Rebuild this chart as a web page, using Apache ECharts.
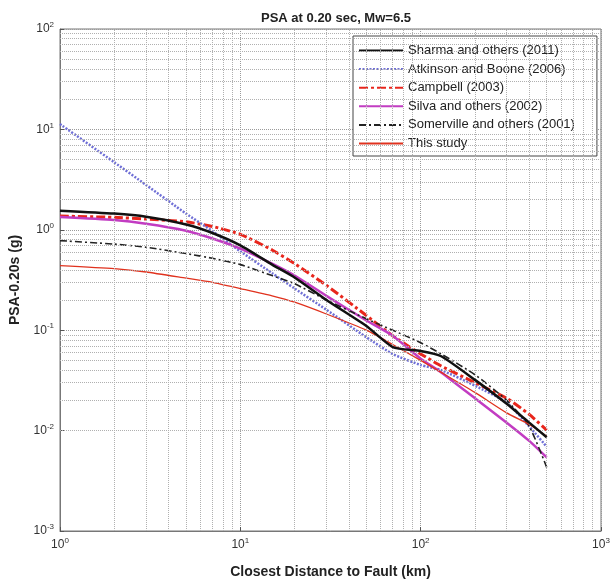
<!DOCTYPE html>
<html>
<head>
<meta charset="utf-8">
<script src="https://cdn.jsdelivr.net/npm/echarts@6/dist/echarts.min.js"></script>
<style>
html,body{margin:0;padding:0;background:#fff;}
#chart{width:615px;height:584px;}
</style>
</head>
<body>
<div id="chart"></div>
<script>
// Distances (km)
var distances = [1, 2, 3, 5, 7, 10, 15, 20, 30, 50, 70, 100, 130, 200, 300, 400, 500];
// PSA values (g)
var sharma2011     = [1.55, 1.45, 1.35, 1.13, 0.93, 0.70, 0.45, 0.335, 0.20, 0.11, 0.068, 0.062, 0.055, 0.032, 0.0185, 0.012, 0.0086];
var atkinson2006   = [11.3, 4.7, 2.8, 1.45, 0.97, 0.61, 0.37, 0.26, 0.16, 0.085, 0.058, 0.045, 0.040, 0.028, 0.019, 0.011, 0.0069];
var campbell2003   = [1.37, 1.33, 1.28, 1.20, 1.08, 0.90, 0.63, 0.46, 0.28, 0.14, 0.088, 0.058, 0.044, 0.030, 0.021, 0.0145, 0.0101];
var silva2002      = [1.34, 1.25, 1.15, 0.98, 0.82, 0.65, 0.46, 0.35, 0.22, 0.125, 0.088, 0.052, 0.038, 0.021, 0.012, 0.0079, 0.0054];
var somerville2001 = [0.78, 0.72, 0.67, 0.58, 0.52, 0.45, 0.35, 0.29, 0.20, 0.13, 0.10, 0.075, 0.058, 0.036, 0.020, 0.011, 0.0043];
var thisStudy      = [0.44, 0.41, 0.38, 0.33, 0.30, 0.26, 0.22, 0.19, 0.145, 0.10, 0.072, 0.050, 0.038, 0.024, 0.015, 0.0115, 0.0088];

var seriesNames = ['Sharma and others (2011)', 'Atkinson and Boone (2006)', 'Campbell (2003)',
                   'Silva and others (2002)', 'Somerville and others (2001)', 'This study'];

// Grid tick positions (minor)
var minorX = [2,3,4,5,6,7,8,9,20,30,40,50,60,70,80,90,200,300,400,500,600,700,800,900];
var minorY = [0.002,0.003,0.004,0.005,0.006,0.007,0.008,0.009,
              0.02,0.03,0.04,0.05,0.06,0.07,0.08,0.09,
              0.2,0.3,0.4,0.5,0.6,0.7,0.8,0.9,
              2,3,4,5,6,7,8,9,20,30,40,50,60,70,80,90];

function pairs(vals){ return distances.map(function(d,i){ return [d, vals[i]]; }); }

var chart = echarts.init(document.getElementById('chart'), null, {renderer:'canvas'});

function expLabel(v){
  var e = Math.round(Math.log(v)/Math.LN10);
  return '{b|10}{s|' + e + '}';
}
var rich = {
  b: {fontSize: 12, fontFamily: 'Liberation Sans, Arial', color: '#333'},
  s: {fontSize: 8, fontFamily: 'Liberation Sans, Arial', color: '#333', padding: [0,0,8,0]}
};

var minorLines = [];
minorX.forEach(function(x){ minorLines.push({xAxis: x}); });
minorY.forEach(function(y){ minorLines.push({yAxis: y}); });

var option = {
  animation: false,
  backgroundColor: '#fff',
  title: {
    text: 'PSA at 0.20 sec, Mw=6.5',
    left: 331, top: 7, textAlign: 'center',
    textStyle: {fontSize: 13, fontWeight: 'bold', fontFamily: 'Liberation Sans, Arial', color: '#222'}
  },
  grid: {left: 60, top: 29, right: 14, bottom: 53, show: true, borderColor: '#777', borderWidth: 1, backgroundColor: 'transparent'},
  legend: {
    orient: 'vertical',
    left: 353, top: 36,
    data: seriesNames,
    itemWidth: 44, itemHeight: 12, itemGap: 5.6,
    padding: [8, 22, 6, 5],
    backgroundColor: '#fff',
    borderColor: '#444', borderWidth: 1,
    itemStyle: {opacity: 0},
    textStyle: {fontSize: 13, fontFamily: 'Liberation Sans, Arial', color: '#222'}
  },
  xAxis: {
    type: 'log', logBase: 10, min: 1, max: 1000,
    name: 'Closest Distance to Fault (km)',
    nameLocation: 'middle', nameGap: 34,
    nameTextStyle: {fontSize: 14, fontWeight: 'bold', fontFamily: 'Liberation Sans, Arial', color: '#222'},
    axisLine: {show: true, lineStyle: {color: '#777'}},
    axisTick: {show: true, inside: true, length: 4, lineStyle: {color: '#555'}},
    axisLabel: {formatter: expLabel, rich: rich, margin: 6},
    splitLine: {show: true, lineStyle: {color: '#9a9a9a', type: 'dotted', width: 1}}
  },
  yAxis: {
    type: 'log', logBase: 10, min: 0.001, max: 100,
    name: 'PSA-0.20s (g)',
    nameLocation: 'middle', nameGap: 36,
    nameTextStyle: {fontSize: 14, fontWeight: 'bold', fontFamily: 'Liberation Sans, Arial', color: '#222'},
    axisLine: {show: true, lineStyle: {color: '#777'}},
    axisTick: {show: true, inside: true, length: 4, lineStyle: {color: '#555'}},
    axisLabel: {formatter: expLabel, rich: rich, margin: 6},
    splitLine: {show: true, lineStyle: {color: '#9a9a9a', type: 'dotted', width: 1}}
  },
  series: [
    {
      name: 'gridMinor', type: 'line', data: [[1, 0.001]], showSymbol: false, symbol: 'none',
      lineStyle: {opacity: 0}, silent: true, z: 1,
      markLine: {silent: true, symbol: 'none', label: {show: false}, animation: false,
        lineStyle: {color: '#b0b0b0', type: 'dotted', width: 1}, data: minorLines}
    },
    {name: seriesNames[0], type: 'line', data: pairs(sharma2011), symbol: 'none', smooth: 0.2, z: 5,
     lineStyle: {color: '#111', width: 2.5, type: 'solid'}, itemStyle: {color: '#111'}},
    {name: seriesNames[1], type: 'line', data: pairs(atkinson2006), symbol: 'none', smooth: 0.2, z: 4,
     lineStyle: {color: '#6f6fd6', width: 2.5, type: [2, 1.5]}, itemStyle: {color: '#6f6fd6'}},
    {name: seriesNames[2], type: 'line', data: pairs(campbell2003), symbol: 'none', smooth: 0.2, z: 3,
     lineStyle: {color: '#e8261c', width: 3, type: [9, 3, 3, 3]}, itemStyle: {color: '#e8261c'}},
    {name: seriesNames[3], type: 'line', data: pairs(silva2002), symbol: 'none', smooth: 0.2, z: 4,
     lineStyle: {color: '#c23cc2', width: 2.5, type: 'solid'}, itemStyle: {color: '#c23cc2'}},
    {name: seriesNames[4], type: 'line', data: pairs(somerville2001), symbol: 'none', smooth: 0.2, z: 4,
     lineStyle: {color: '#222', width: 1.6, type: [7, 3, 2, 3]}, itemStyle: {color: '#222'}},
    {name: seriesNames[5], type: 'line', data: pairs(thisStudy), symbol: 'none', smooth: 0.2, z: 4,
     lineStyle: {color: '#e0321e', width: 1.3, type: 'solid'}, itemStyle: {color: '#e0321e'}}
  ]
};
chart.setOption(option);
</script>
</body>
</html>
